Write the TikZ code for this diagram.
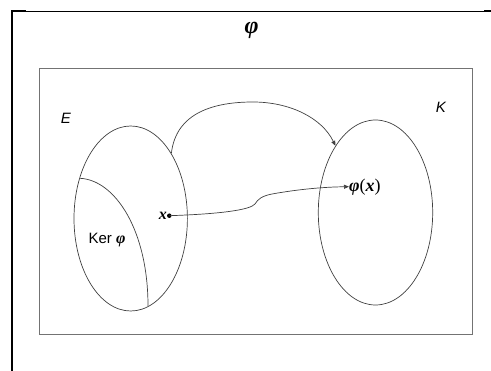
\documentclass[tikz,border=0pt]{standalone}
\usepackage{fontspec}
\setmainfont{Liberation Serif}
\newfontfamily\arialf{Liberation Sans}
\usetikzlibrary{shapes.geometric,arrows.meta}
\newcommand{\bi}[1]{\textbf{\textit{#1}}}
\begin{document}
\begin{tikzpicture}[x=1pt,y=-1pt,
  setline/.style={draw=black!75, line width=0.7pt},
  setellipse/.style={ellipse, setline, inner sep=0pt},
  sanslabel/.style={font=\arialf\fontsize{15}{17}\selectfont, inner sep=0pt},
  mathlabel/.style={inner sep=0pt},
  maparrow/.style={setline, -{Triangle[length=5pt,width=4pt]}}]
\useasboundingbox (0,0) rectangle (491,371);
% outer frame
\draw[line width=2pt] (12,371) -- (12,11);
\draw[line width=2pt] (11,11.5) -- (26,11.5);
\draw[line width=1pt] (26,11.5) -- (484,11.5);
\draw[line width=2pt] (484,11.5) -- (491,11.5);
% inner rectangle
\draw[draw=black!55, line width=0.8pt] (39.5,68.5) rectangle (472,334);
% title
\node[mathlabel] (title) at (251.7,30) {\fontsize{24}{26}\selectfont\bi{φ}};
% sets
\node[setellipse, minimum width=113.4pt, minimum height=185pt] (E) at (130.7,218.5) {};
\node[setellipse, minimum width=114.4pt, minimum height=185pt] (K) at (375.5,212.5) {};
\node[sanslabel] (Elab) at (66,118) {\itshape E};
\node[sanslabel] (Klab) at (441,107) {\itshape K};
\node[sanslabel] (ker) at (107,240) {Ker {\rmfamily\fontsize{16}{18}\selectfont\bi{φ}}};
% kernel boundary
\coordinate (k1) at (80,178.3);
\coordinate (k2) at (148,306);
\draw[setline] (k1) .. controls (115,180) and (148,230) .. (k2);
% point x
\node[circle, fill=black, inner sep=0pt, minimum size=4.5pt] (xdot) at (169.3,215.7) {};
\node[mathlabel, anchor=east] (xlab) at (167,215.7) {\fontsize{16}{18}\selectfont\bi{x}};
\node[mathlabel, anchor=west] (phix) at (349,186.7) {\fontsize{18}{20}\selectfont\bi{φ}(\bi{x})};
% arrows
\draw[maparrow] (E.58) .. controls (176,112) and (215,102) .. (253,102)
   .. controls (290,102) and (322,118) .. (K.121);
\draw[maparrow] (xdot.center) .. controls (220,214) and (250,210) .. (255,204)
   .. controls (258,199) and (262,196) .. (272,194)
   .. controls (300,189) and (325,187) .. (phix.west);
\end{tikzpicture}
\end{document}
